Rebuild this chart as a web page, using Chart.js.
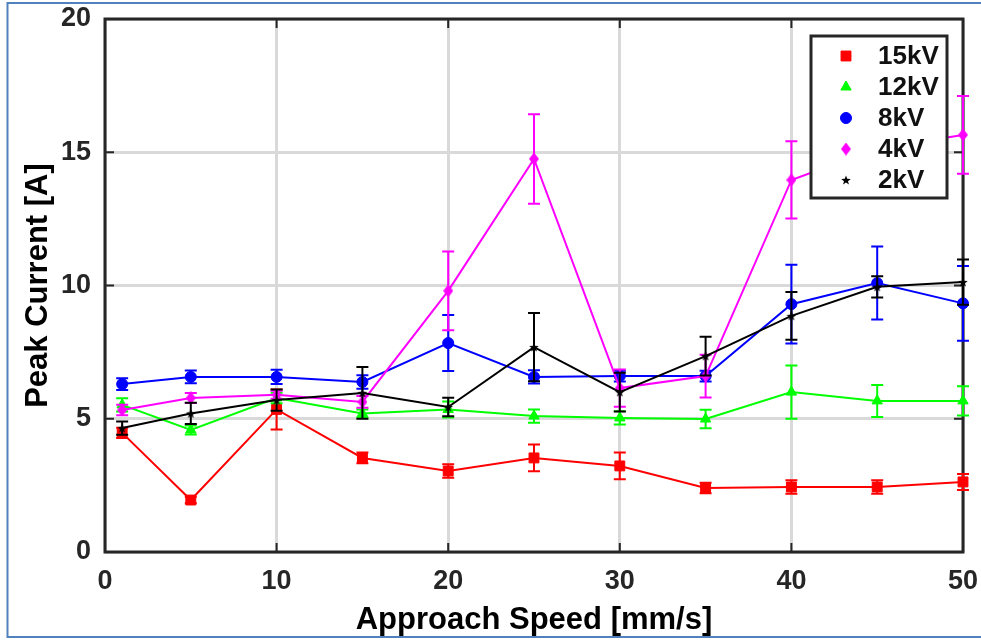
<!DOCTYPE html>
<html><head><meta charset="utf-8">
<script src="https://cdn.jsdelivr.net/npm/chart.js@4.4.0/dist/chart.umd.min.js"></script>
<style>html,body{margin:0;padding:0;background:#fff;}#wrap{width:981px;height:640px;position:relative;}</style>
</head><body><div id="wrap"><canvas id="c" width="981" height="640"></canvas></div>
<script>
// ---- data ----
const speeds = [1, 5, 10, 15, 20, 25, 30, 35, 40, 45, 50];
const kv15  = [4.47, 1.95, 5.35, 3.53, 3.04, 3.53, 3.23, 2.40, 2.44, 2.44, 2.63];
const err15 = [0.19, 0.12, 0.75, 0.20, 0.25, 0.50, 0.50, 0.20, 0.25, 0.25, 0.30];
const kv12  = [5.52, 4.58, 5.78, 5.20, 5.35, 5.10, 5.03, 4.99, 6.00, 5.67, 5.67];
const err12 = [0.25, 0.17, 0.20, 0.15, 0.30, 0.25, 0.25, 0.35, 1.00, 0.60, 0.55];
const kv8   = [6.30, 6.57, 6.57, 6.38, 7.84, 6.57, 6.60, 6.60, 9.30, 10.09, 9.33];
const err8  = [0.22, 0.24, 0.27, 0.25, 1.05, 0.25, 0.20, 0.20, 1.48, 1.37, 1.40];
const kv4   = [5.33, 5.78, 5.90, 5.63, 9.80, 14.75, 6.15, 6.60, 13.96, 15.15, 15.65];
const err4  = [0.20, 0.19, 0.15, 0.22, 1.48, 1.68, 0.70, 0.80, 1.45, 1.30, 1.46];
const kv2   = [4.65, 5.20, 5.70, 5.97, 5.44, 7.69, 6.00, 7.35, 8.86, 9.95, 10.13];
const err2  = [0.25, 0.40, 0.40, 0.97, 0.35, 1.28, 0.73, 0.73, 0.90, 0.40, 0.85];
const seriesNames = ['15kV', '12kV', '8kV', '4kV', '2kV'];
const xTicks = [0, 10, 20, 30, 40, 50];
const yTicks = [0, 5, 10, 15, 20];
const xTitle = 'Approach Speed [mm/s]';
const yTitle = 'Peak Current [A]';

// ---- styles ----
const values = [kv15, kv12, kv8, kv4, kv2];
const errors = [err15, err12, err8, err4, err2];
const colors = ['#ff0000', '#00ff00', '#0000ff', '#ff00ff', '#000000'];
function makeStar(size, color) {
  const c = document.createElement('canvas'); c.width = c.height = size;
  const g = c.getContext('2d'); g.fillStyle = color; g.beginPath();
  const cx = size / 2, cy = size / 2 + 0.5, R = size / 2, r = R * 0.42;
  for (let k = 0; k < 10; k++) {
    const a = -Math.PI / 2 + k * Math.PI / 5, rr = k % 2 ? r : R;
    g.lineTo(cx + rr * Math.cos(a), cy + rr * Math.sin(a));
  }
  g.closePath(); g.fill(); return c;
}
function makeDiamond(w, h, color) {
  const c = document.createElement('canvas'); c.width = w; c.height = h;
  const g = c.getContext('2d'); g.fillStyle = color; g.beginPath();
  g.moveTo(w / 2, 0); g.lineTo(w, h / 2); g.lineTo(w / 2, h); g.lineTo(0, h / 2); g.closePath(); g.fill();
  return c;
}
const pointStyles = ['rect', 'triangle', 'circle', makeDiamond(10, 13, '#ff00ff'), makeStar(10, '#000000')];
const pointRadii = [7, 6, 5.5, 6, 5];
const FONT = "'Liberation Sans', Arial, sans-serif";
const INK = '#262626';

const datasets = seriesNames.map((name, i) => ({
  label: name,
  data: speeds.map((s, j) => ({ x: s, y: values[i][j] })),
  borderColor: colors[i], backgroundColor: colors[i],
  borderWidth: 2, pointStyle: pointStyles[i], pointRadius: pointRadii[i],
  pointBorderWidth: 1, tension: 0, order: 5 - i, clip: false
}));

function noOverflow(s) { s.paddingTop = 0; s.paddingBottom = 0; s.paddingLeft = 0; s.paddingRight = 0; }

const blueFrame = {
  id: 'blueFrame',
  beforeDraw(chart) {
    const ctx = chart.ctx; ctx.save();
    ctx.fillStyle = '#fff'; ctx.fillRect(0, 0, chart.width, chart.height);
    ctx.strokeStyle = '#4f81bd'; ctx.lineWidth = 2;
    ctx.beginPath(); ctx.moveTo(7.5, 3); ctx.lineTo(chart.width, 3);
    ctx.moveTo(7.5, 2); ctx.lineTo(7.5, 638);
    ctx.moveTo(7.5, 637); ctx.lineTo(chart.width, 637); ctx.stroke();
    ctx.restore();
  }
};

const boxAxes = {
  id: 'boxAxes',
  beforeDatasetsDraw(chart) {
    const { ctx, chartArea: a, scales } = chart; ctx.save();
    ctx.strokeStyle = INK; ctx.lineWidth = 2;
    ctx.beginPath();
    xTicks.forEach(v => { const px = scales.x.getPixelForValue(v);
      ctx.moveTo(px, a.bottom); ctx.lineTo(px, a.bottom - 9); ctx.moveTo(px, a.top); ctx.lineTo(px, a.top + 9); });
    yTicks.forEach(v => { const py = scales.y.getPixelForValue(v);
      ctx.moveTo(a.left, py); ctx.lineTo(a.left + 9, py); ctx.moveTo(a.right, py); ctx.lineTo(a.right - 9, py); });
    ctx.stroke();
    ctx.lineWidth = 3; ctx.strokeRect(a.left, a.top, a.right - a.left, a.bottom - a.top);
    ctx.restore();
  }
};

const errorBars = {
  id: 'errorBars',
  afterDatasetDraw(chart, args) {
    const i = args.index, ds = chart.data.datasets[i], e = errors[i];
    const xs = chart.scales.x, ys = chart.scales.y, ctx = chart.ctx;
    ctx.save(); ctx.strokeStyle = ds.borderColor; ctx.lineWidth = 2; ctx.beginPath();
    ds.data.forEach((p, j) => {
      const px = xs.getPixelForValue(p.x), t = ys.getPixelForValue(p.y + e[j]), b = ys.getPixelForValue(p.y - e[j]);
      ctx.moveTo(px, t); ctx.lineTo(px, b);
      ctx.moveTo(px - 6, t); ctx.lineTo(px + 6, t);
      ctx.moveTo(px - 6, b); ctx.lineTo(px + 6, b);
    });
    ctx.stroke(); ctx.restore();
  }
};

const boxLegend = {
  id: 'boxLegend',
  afterDraw(chart) {
    const { ctx, chartArea: a } = chart;
    const w = 136, h = 162, x0 = a.right - 16 - w, y0 = a.top + 17;
    ctx.save();
    ctx.fillStyle = '#fff'; ctx.fillRect(x0, y0, w, h);
    ctx.strokeStyle = INK; ctx.lineWidth = 3; ctx.strokeRect(x0, y0, w, h);
    ctx.font = 'bold 26px ' + FONT; ctx.textBaseline = 'middle'; ctx.textAlign = 'left'; ctx.fillStyle = '#111';
    seriesNames.forEach((name, i) => {
      const cy = y0 + 20 + i * 31, mx = x0 + 35;
      const ds = chart.data.datasets[i];
      if (Chart.helpers && Chart.helpers.drawPoint) {
        ctx.fillStyle = ds.backgroundColor; ctx.strokeStyle = ds.borderColor; ctx.lineWidth = 1;
        Chart.helpers.drawPoint(ctx, { pointStyle: ds.pointStyle, radius: ds.pointRadius, rotation: 0, borderWidth: 1 }, mx, cy);
      }
      ctx.fillStyle = '#111';
      ctx.fillText(name, x0 + 67, cy + 1);
    });
    ctx.restore();
  }
};

new Chart(document.getElementById('c'), {
  type: 'line',
  data: { datasets },
  options: {
    responsive: false, animation: false, devicePixelRatio: 1,
    layout: { padding: { left: 0, top: 19, right: 18, bottom: 0 } },
    plugins: { legend: { display: false }, tooltip: { enabled: false } },
    scales: {
      x: {
        type: 'linear', min: 0, max: 50,
        afterBuildTicks(s) { s.ticks = xTicks.map(v => ({ value: v })); },
        afterFit(s) { s.height = 88; noOverflow(s); },
        grid: { color: '#d9d9d9', lineWidth: 3, drawTicks: false },
        border: { display: false },
        ticks: { font: { family: FONT, size: 27, weight: 'bold' }, color: INK, padding: 13, maxRotation: 0 },
        title: { display: true, text: xTitle, font: { family: FONT, size: 31, weight: 'bold' }, color: '#000', padding: { top: 0, bottom: 1 } }
      },
      y: {
        type: 'linear', min: 0, max: 20,
        afterBuildTicks(s) { s.ticks = yTicks.map(v => ({ value: v })); },
        afterFit(s) { s.width = 105; noOverflow(s); },
        grid: { color: '#d9d9d9', lineWidth: 3, drawTicks: false },
        border: { display: false },
        ticks: { font: { family: FONT, size: 27, weight: 'bold' }, color: INK, padding: 14 },
        title: { display: true, text: yTitle, font: { family: FONT, size: 31, weight: 'bold' }, color: '#000', padding: { top: 20, bottom: 0 } }
      }
    }
  },
  plugins: [blueFrame, boxAxes, errorBars, boxLegend]
});
</script>
</body></html>
